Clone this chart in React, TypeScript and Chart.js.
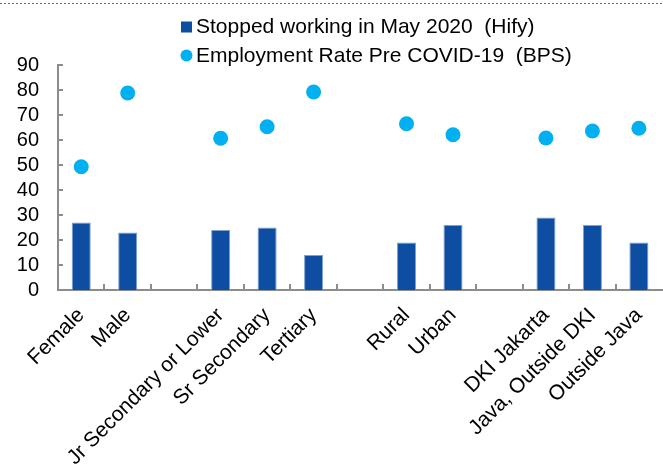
import React, { useEffect, useRef } from "react";
import { Chart, registerables } from "chart.js";

Chart.register(...registerables);

const categories = [
  "Female",
  "Male",
  "",
  "Jr Secondary or Lower",
  "Sr Secondary",
  "Tertiary",
  "",
  "Rural",
  "Urban",
  "",
  "DKI Jakarta",
  "Java, Outside DKI",
  "Outside Java",
];
const stoppedWorking = [27, 23, null, 24, 25, 14, null, 19, 26, null, 29, 26, 19];
const employmentRate = [49.3, 78.8, null, 60.7, 65.3, 79.2, null, 66.5, 62.1, null, 60.8, 63.6, 64.7];
const yTickValues = [0, 10, 20, 30, 40, 50, 60, 70, 80, 90];
const seriesNames = [
  "Stopped working in May 2020  (Hify)",
  "Employment Rate Pre COVID-19  (BPS)",
];

const BAR_COLOR = "#0D4EA2";
const POINT_COLOR = "#00B0F0";
const AXIS_COLOR = "#8C8C8C";
const FONT = '"Liberation Sans", Arial, sans-serif';

const CANVAS_W = 670;
const CANVAS_H = 480;
const PLOT_BOTTOM = 290;

const decorPlugin = {
  id: "decor",
  beforeDatasetsDraw(chart: any) {
    const { ctx, chartArea, scales } = chart;
    const x = scales.x;
    const y = scales.y;
    ctx.save();
    ctx.strokeStyle = AXIS_COLOR;
    ctx.lineWidth = 2;
    ctx.beginPath();
    yTickValues.forEach((v) => {
      if (v === 0) return;
      const py = Math.round(y.getPixelForValue(v));
      ctx.moveTo(chartArea.left, py);
      ctx.lineTo(chartArea.left + 5, py);
    });
    for (let i = 1; i < categories.length; i++) {
      const px = Math.round((x.getPixelForValue(i - 1) + x.getPixelForValue(i)) / 2);
      ctx.moveTo(px, chartArea.bottom);
      ctx.lineTo(px, chartArea.bottom - 6);
    }
    ctx.stroke();
    ctx.restore();
  },
  afterDraw(chart: any) {
    const { ctx } = chart;
    ctx.save();
    ctx.strokeStyle = "#3B6FC0";
    ctx.lineWidth = 1;
    ctx.setLineDash([2, 2]);
    ctx.beginPath();
    ctx.moveTo(0, 3.5);
    ctx.lineTo(CANVAS_W, 3.5);
    ctx.stroke();
    ctx.setLineDash([]);
    ctx.font = `21px ${FONT}`;
    ctx.textBaseline = "middle";
    ctx.textAlign = "left";
    ctx.fillStyle = BAR_COLOR;
    ctx.fillRect(181, 21.5, 11, 11);
    ctx.fillStyle = "#000";
    ctx.fillText(seriesNames[0], 196, 27.5);
    ctx.fillStyle = POINT_COLOR;
    ctx.beginPath();
    ctx.arc(186.5, 55.5, 6, 0, Math.PI * 2);
    ctx.fill();
    ctx.fillStyle = "#000";
    ctx.fillText(seriesNames[1], 196, 56.5);
    ctx.restore();
  },
};

export default function App() {
  const ref = useRef<HTMLCanvasElement | null>(null);

  useEffect(() => {
    if (!ref.current) return;
    const chart = new Chart(ref.current, {
      type: "bar",
      data: {
        labels: categories,
        datasets: [
          {
            type: "line",
            label: seriesNames[1],
            data: employmentRate as any,
            showLine: false,
            pointRadius: 7.5,
            pointHoverRadius: 7.5,
            pointBackgroundColor: POINT_COLOR,
            pointBorderWidth: 0,
            borderColor: POINT_COLOR,
            backgroundColor: POINT_COLOR,
            xAxisID: "x",
            yAxisID: "y",
            order: 0,
          } as any,
          {
            type: "bar",
            label: seriesNames[0],
            data: stoppedWorking as any,
            backgroundColor: BAR_COLOR,
            borderColor: "#7F9FD0",
            borderWidth: 1,
            barPercentage: 0.41,
            categoryPercentage: 1,
            xAxisID: "x",
            yAxisID: "y",
            order: 1,
          } as any,
        ],
      },
      options: {
        responsive: false,
        animation: false,
        layout: { padding: { top: 65, left: 0, right: 3.6, bottom: 0 } },
        plugins: {
          legend: { display: false },
          tooltip: { enabled: false },
        },
        scales: {
          x: {
            type: "category",
            offset: true,
            grid: { display: false, drawTicks: false },
            border: { display: true, color: AXIS_COLOR, width: 2 },
            afterFit: (s: any) => {
              s.height = CANVAS_H - PLOT_BOTTOM;
            },
            ticks: {
              autoSkip: false,
              minRotation: 45,
              maxRotation: 45,
              padding: 13,
              color: "#000",
              font: { family: FONT, size: 21 },
            },
          },
          y: {
            type: "linear",
            min: 0,
            max: 90,
            afterBuildTicks: (s: any) => {
              s.ticks = yTickValues.map((v) => ({ value: v }));
            },
            afterFit: (s: any) => {
              s.width = 58;
            },
            grid: { display: false, drawTicks: false },
            border: { display: true, color: AXIS_COLOR, width: 2 },
            ticks: {
              autoSkip: false,
              padding: 19,
              color: "#000",
              font: { family: FONT, size: 20 },
            },
          },
        },
      },
      plugins: [decorPlugin],
    });
    return () => chart.destroy();
  }, []);

  return (
    <div
      style={{
        position: "fixed",
        left: 0,
        top: 0,
        width: 663,
        height: 464,
        overflow: "hidden",
        background: "#fff",
      }}
    >
      <canvas
        ref={ref}
        width={CANVAS_W}
        height={CANVAS_H}
        style={{ width: CANVAS_W, height: CANVAS_H, display: "block" }}
      />
    </div>
  );
}
